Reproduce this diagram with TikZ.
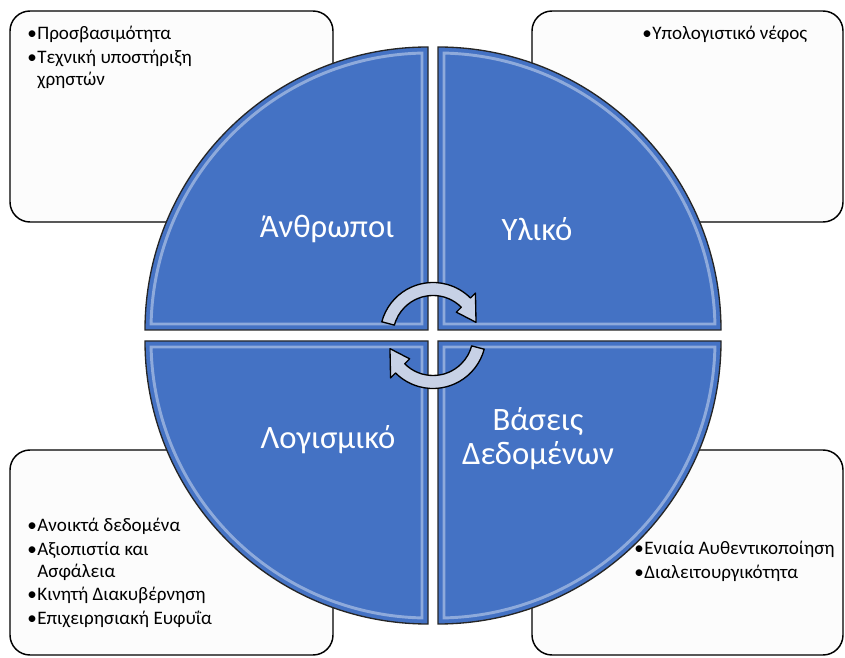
\documentclass[tikz,border=0pt]{standalone}
\usepackage{fontspec}
\setmainfont{Carlito}
\usepackage{tikz}
\usetikzlibrary{calc}
\definecolor{quadBlue}{HTML}{4472C4}
\definecolor{cycFill}{HTML}{C7D1E6}
\definecolor{cardFill}{HTML}{FCFCFC}
\newcommand{\itm}{\makebox[7.6pt][l]{•}}
\newcommand{\ind}{\hspace*{7.6pt}}

\begin{document}
\begin{tikzpicture}[x=0.75pt, y=0.75pt,
    card/.style={draw=black, line width=1.1pt, fill=cardFill, rounded corners=15pt},
    quad/.style={draw=black!85, line width=1pt, fill=quadBlue},
    bevel/.style={draw=white, line width=2.2pt, opacity=0.4},
    lbl/.style={text=white, font=\fontsize{24.5}{25.5}\selectfont, align=center, inner sep=0pt},
    bul/.style={anchor=north west, align=left, inner sep=0pt, font=\fontsize{14.3}{16.6}\selectfont},
    cyc/.style={draw=black, line width=1pt, fill=cycFill, line join=round}]
  \useasboundingbox (0,0) rectangle (845,657);
  % side cards
  \draw[card] (10,435) rectangle (333,646);
  \draw[card] (532,435) rectangle (843,646);
  \draw[card] (10,2) rectangle (333,207);
  \draw[card] (532,2) rectangle (843,207);
  % split circle
  \coordinate (c) at (433,321.5);
  \foreach \sx/\sy/\a in {-1/1/90, 1/1/0, -1/-1/180, 1/-1/270} {
    \coordinate (o) at ($(c)+(5*\sx,5.5*\sy)$);
    \draw[quad] (o) -- ++(\a:283) arc[start angle=\a, delta angle=90, radius=283] -- cycle;
    \draw[bevel] ($(o)+(6*\sx,6*\sy)$) -- ($(o)+(\a+1.24:277)$)
      arc[start angle=\a+1.24, delta angle=87.52, radius=277] -- cycle;
  }
  \node[lbl] (ppl) at (327,428) {Άνθρωποι};
  \node[lbl] (hw)  at (537,428) {Υλικό};
  \node[lbl] (sw)  at (328,217) {Λογισμικό};
  \node[lbl] (db)  at (538,218) {Βάσεις\\Δεδομένων};
  % cycle arrows in the middle
  \foreach \r in {0,180}
    \draw[cyc] ($(c)+(165+\r:53)$) arc[start angle=165+\r, end angle=45+\r, radius=53]
      -- ($(c)+(45+\r:60)$) -- ($(c)+(17+\r:45)$) -- ($(c)+(45+\r:33)$)
      -- ($(c)+(45+\r:40)$) arc[start angle=45+\r, end angle=165+\r, radius=40] -- cycle;
  % bullet texts
  \node[bul] (ppl-t) at (27,631) {\itm Προσβασιμότητα\\[1pt]\itm Τεχνική υποστήριξη\\\ind χρηστών};
  \node[bul] (hw-t) at (642,631) {\itm Υπολογιστικό νέφος};
  \node[bul] (sw-t) at (27,139) {\itm Ανοικτά δεδομένα\\[1pt]\itm Αξιοπιστία και\\\ind Ασφάλεια\\[1pt]\itm Κινητή Διακυβέρνηση\\[1pt]\itm Επιχειρησιακή Ευφυΐα};
  \node[bul] (db-t) at (634,116) {\itm Ενιαία Αυθεντικοποίηση\\[1pt]\itm Διαλειτουργικότητα};
\end{tikzpicture}
\end{document}
